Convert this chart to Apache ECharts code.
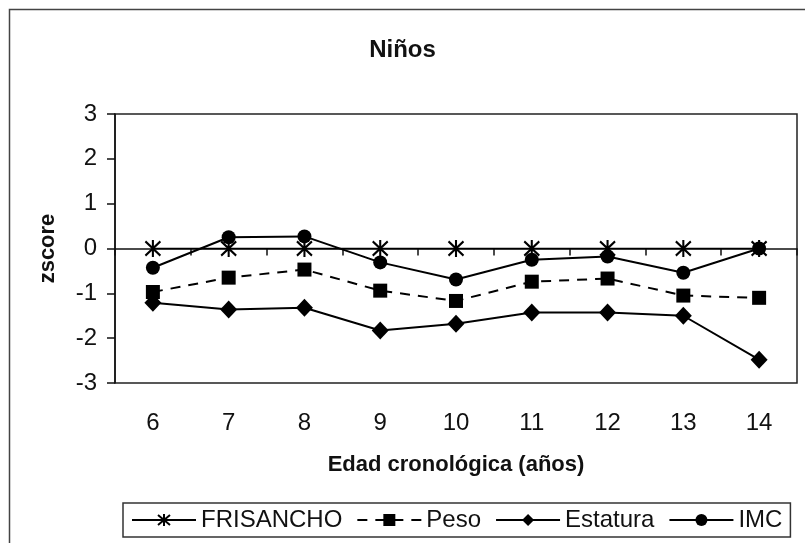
<!DOCTYPE html>
<html>
<head>
<meta charset="utf-8">
<script src="https://cdn.jsdelivr.net/npm/echarts@6/dist/echarts.min.js"></script>
<style>html,body{margin:0;padding:0;background:#fff}#c{width:805px;height:543px}</style>
</head>
<body>
<div id="c"></div>
<script>
var categories = ['6','7','8','9','10','11','12','13','14'];
var frisancho = [0,0,0,0,0,0,0,0,0];
var peso = [-0.97,-0.65,-0.47,-0.94,-1.17,-0.74,-0.67,-1.05,-1.10];
var estatura = [-1.21,-1.36,-1.32,-1.83,-1.68,-1.43,-1.43,-1.50,-2.48];
var imc = [-0.43,0.25,0.27,-0.31,-0.69,-0.25,-0.18,-0.54,0.0];
var yMin = -3, yMax = 3, yStep = 1;

var FONT = '"Liberation Sans", Arial, sans-serif';
var asterisk = 'path://M0,1L10,11M10,1L0,11M5,0L5,12';

var chart = echarts.init(document.getElementById('c'), null, {renderer:'canvas'});
chart.setOption({
  backgroundColor:'#fff',
  animation:false,
  textStyle:{fontFamily:FONT,color:'#111'},
  graphic:[{type:'rect',left:7,top:7,shape:{width:830,height:570},
            style:{fill:'none',stroke:'#444',lineWidth:1.5},silent:true}],
  title:{text:'Niños',left:'center',top:38,padding:0,
         textStyle:{fontFamily:FONT,fontSize:24,fontWeight:'bold',color:'#111'}},
  legend:{left:123,top:503,padding:[5,8],borderColor:'#333',borderWidth:1.5,
          itemWidth:64,itemHeight:15,itemGap:14,
          textStyle:{fontFamily:FONT,fontSize:24,color:'#111'},
          data:['FRISANCHO','Peso','Estatura','IMC']},
  grid:[{left:115,top:114,width:682,height:269,show:true,borderColor:'#222',borderWidth:1.5,backgroundColor:'transparent'},
        {left:115,top:114,width:682,height:269,show:false}],
  xAxis:[{gridIndex:0,type:'category',data:categories,boundaryGap:true,
          axisLine:{onZero:true,lineStyle:{color:'#111',width:1.5}},
          axisTick:{show:true,inside:false,length:7,lineStyle:{color:'#111',width:1.5}},
          axisLabel:{show:false},splitLine:{show:false}},
         {gridIndex:1,type:'category',data:categories,boundaryGap:true,position:'bottom',
          axisLine:{show:false},axisTick:{show:false},
          axisLabel:{show:true,margin:28,fontFamily:FONT,fontSize:24,color:'#111'},
          name:'Edad cronológica (años)',nameLocation:'middle',nameGap:71,
          nameTextStyle:{fontFamily:FONT,fontSize:22,fontWeight:'bold',color:'#111'}}],
  yAxis:[{gridIndex:0,type:'value',min:yMin,max:yMax,interval:yStep,
          axisLine:{show:true,lineStyle:{color:'#111',width:1.5}},
          axisTick:{show:true,inside:false,length:8,lineStyle:{color:'#111',width:1.5}},
          axisLabel:{margin:18,fontFamily:FONT,fontSize:24,color:'#111'},
          splitLine:{show:false},
          name:'zscore',nameLocation:'middle',nameGap:56,nameRotate:90,
          nameTextStyle:{fontFamily:FONT,fontSize:22,fontWeight:'bold',color:'#111'}},
         {gridIndex:1,type:'value',min:0,max:1,show:false}],
  series:[
    {name:'FRISANCHO',type:'line',xAxisIndex:0,yAxisIndex:0,data:frisancho,
     symbol:asterisk,symbolSize:[15,17],
     itemStyle:{color:'#000',borderColor:'#000',borderWidth:2.2},
     lineStyle:{color:'#000',width:1.5,type:'solid'},z:3},
    {name:'Peso',type:'line',xAxisIndex:0,yAxisIndex:0,data:peso,
     symbol:'rect',symbolSize:14,itemStyle:{color:'#000'},
     lineStyle:{color:'#000',width:2,type:[10,8]},z:4},
    {name:'Estatura',type:'line',xAxisIndex:0,yAxisIndex:0,data:estatura,
     symbol:'diamond',symbolSize:[17,18],itemStyle:{color:'#000'},
     lineStyle:{color:'#000',width:2,type:'solid'},z:4},
    {name:'IMC',type:'line',xAxisIndex:0,yAxisIndex:0,data:imc,
     symbol:'circle',symbolSize:14,itemStyle:{color:'#000'},
     lineStyle:{color:'#000',width:2,type:'solid'},z:5}
  ]
});
</script>
</body>
</html>
